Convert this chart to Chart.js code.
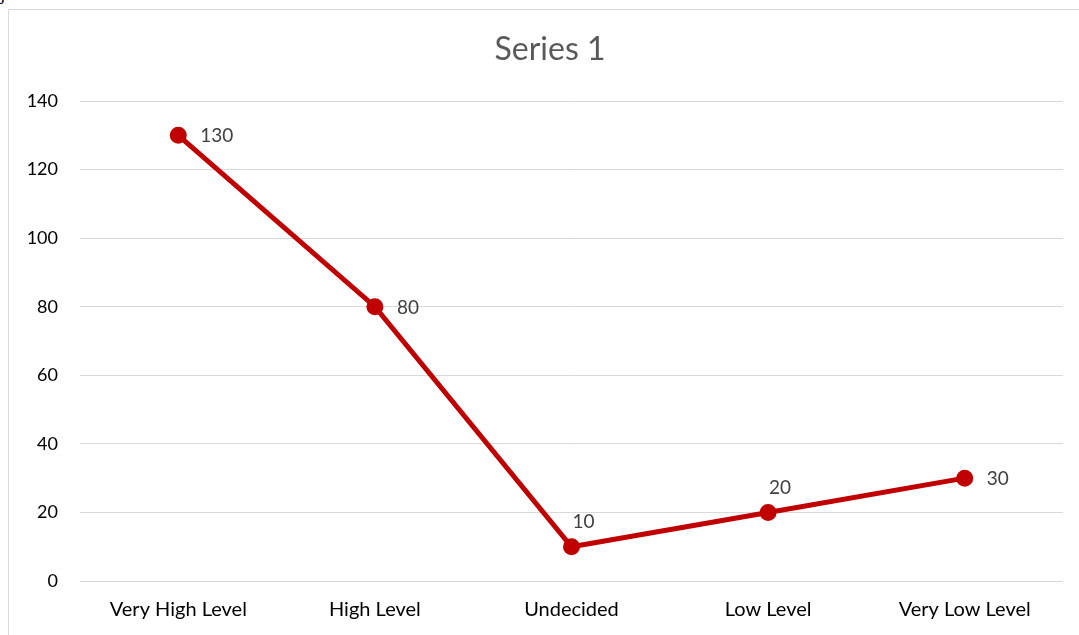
<!DOCTYPE html>
<html>
<head>
<meta charset="utf-8">
<script src="https://cdn.jsdelivr.net/npm/chart.js@4/dist/chart.umd.min.js"></script>
<style>
  html, body { margin: 0; padding: 0; background: #fff; }
  body { width: 1079px; height: 635px; position: relative; overflow: hidden; }
  #caption { position: absolute; left: 0; top: -19px; font: 20px "Liberation Serif", serif; color: #000; line-height: 22px; white-space: nowrap; }
  #frame { position: absolute; left: 8px; top: 9px; width: 1080px; height: 640px; border-left: 1px solid #d9d9d9; border-top: 1px solid #d9d9d9; box-sizing: border-box; }
  #wrap { position: absolute; left: 0; top: 0; width: 1079px; height: 635px; }
</style>
</head>
<body>
<div id="caption">journalism</div>
<div id="frame"></div>
<div id="wrap"><canvas id="c" width="1079" height="635"></canvas></div>
<script>
const categories = ["Very High Level", "High Level", "Undecided", "Low Level", "Very Low Level"];
const series1 = [130, 80, 10, 20, 30];
const yTicks = [0, 20, 40, 60, 80, 100, 120, 140];
const labelSide = ["right", "right", "top", "top", "right"];
const chartTitle = "Series 1";

const FONT = "Lato, 'Liberation Sans', sans-serif";

// Title centred over the framed chart box
const boxTitle = {
  id: "boxTitle",
  afterDraw(chart) {
    const ctx = chart.ctx;
    ctx.save();
    ctx.font = "32px " + FONT;
    ctx.fillStyle = "#595959";
    ctx.textAlign = "center";
    ctx.textBaseline = "middle";
    ctx.fillText(chartTitle, 550, 50);
    ctx.restore();
  }
};

// Value labels next to each point
const valueLabels = {
  id: "valueLabels",
  afterDatasetsDraw(chart) {
    const ctx = chart.ctx;
    const meta = chart.getDatasetMeta(0);
    ctx.save();
    ctx.font = "19px " + FONT;
    ctx.fillStyle = "#404040";
    meta.data.forEach((pt, i) => {
      const v = chart.data.datasets[0].data[i];
      if (labelSide[i] === "right") {
        ctx.textAlign = "left";
        ctx.textBaseline = "middle";
        ctx.fillText(String(v), pt.x + 22, pt.y + 1);
      } else {
        ctx.textAlign = "center";
        ctx.textBaseline = "middle";
        ctx.fillText(String(v), pt.x + 12, pt.y - 25);
      }
    });
    ctx.restore();
  }
};

new Chart(document.getElementById("c"), {
  type: "line",
  data: {
    labels: categories,
    datasets: [{
      label: "Series 1",
      data: series1,
      borderColor: "#C00000",
      backgroundColor: "#C00000",
      borderWidth: 5,
      pointRadius: 6,
      pointHoverRadius: 6,
      pointBackgroundColor: "#C00000",
      pointBorderColor: "#C00000",
      tension: 0
    }]
  },
  options: {
    responsive: false,
    animation: false,
    layout: { padding: { left: 0, right: 16, top: 101, bottom: 0 } },
    plugins: {
      legend: { display: false },
      tooltip: { enabled: false },
      title: { display: false }
    },
    scales: {
      x: {
        offset: true,
        grid: { display: false, drawTicks: false },
        border: { display: false },
        ticks: { color: "#000", font: { family: FONT, size: 20 }, padding: 17, maxRotation: 0 },
        afterFit(scale) { scale.height = 54; }
      },
      y: {
        min: 0,
        max: 140,
        afterBuildTicks(scale) { scale.ticks = yTicks.map(v => ({ value: v })); },
        grid: { color: "#d9d9d9", lineWidth: 1, drawTicks: false },
        border: { display: false },
        ticks: { color: "#000", font: { family: FONT, size: 18 }, padding: 22 },
        afterFit(scale) { scale.width = 80; }
      }
    }
  },
  plugins: [valueLabels, boxTitle]
});
</script>
</body>
</html>
